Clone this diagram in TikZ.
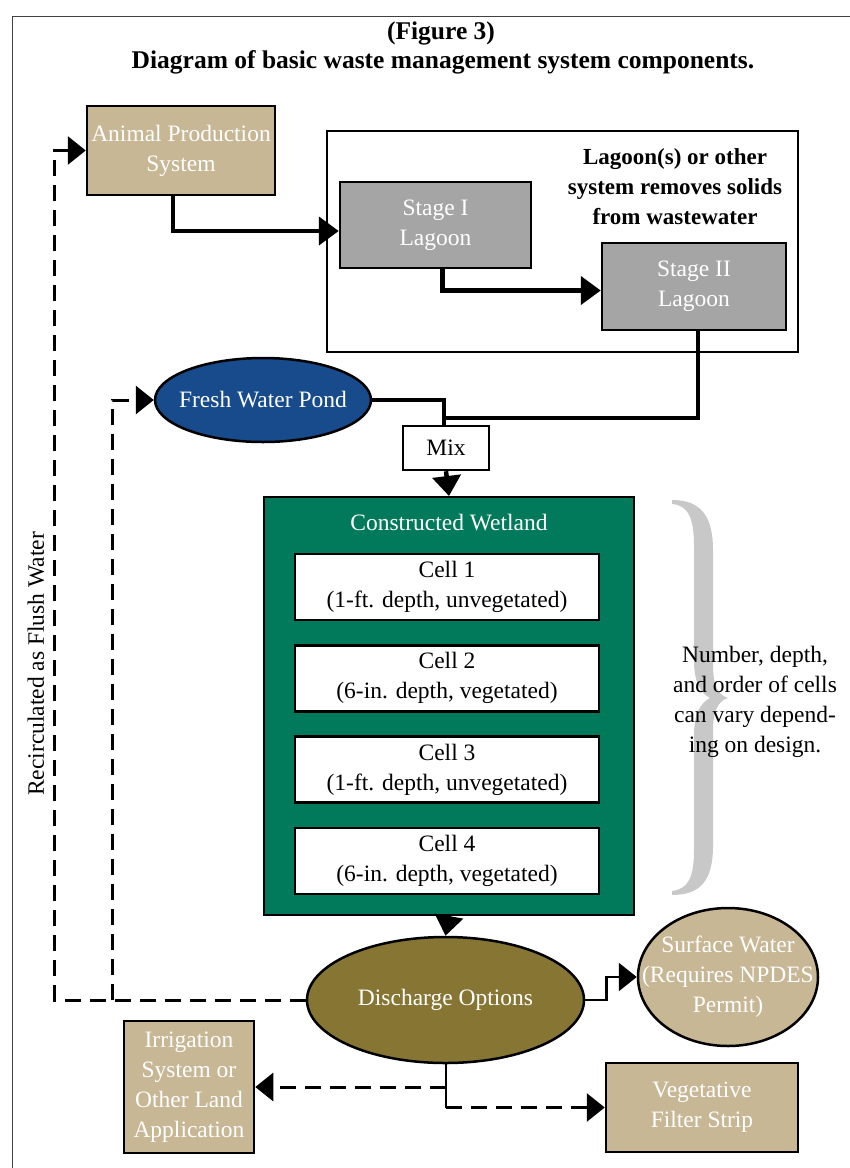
\documentclass[tikz,border=0pt]{standalone}
\usepackage{fontspec}
\setmainfont{Liberation Serif}
\usetikzlibrary{calc}
\usetikzlibrary{arrows.meta}
\usetikzlibrary{shapes.geometric}

\definecolor{mytan}{HTML}{C7B795}
\definecolor{mygray}{HTML}{A5A5A5}
\definecolor{myblue}{HTML}{174B8B}
\definecolor{mygreen}{HTML}{007A5B}
\definecolor{myolive}{HTML}{877533}
\definecolor{mybrace}{HTML}{C8C8C8}

\tikzset{
  txt/.style={font=\fontsize{23.5}{30}\selectfont, align=center},
  heading/.style={txt, font=\fontsize{25.5}{30}\selectfont\bfseries},
  box/.style={txt, draw=black, line width=2.5pt, inner sep=0pt},
  tanbox/.style={box, fill=mytan, text=white},
  graybox/.style={box, fill=mygray, text=white},
  oval/.style={ellipse, draw=black, line width=2.5pt, inner sep=0pt},
  ovaltext/.style={txt, text=white},
  cell/.style={box, fill=white, minimum width=304pt, minimum height=66pt},
  pipe/.style={line width=4.5pt},
  flow/.style={pipe, -{Triangle[length=20pt,width=28pt]}},
  thinflow/.style={line width=2.5pt, -{Triangle[length=18pt,width=28pt]}},
  dashflow/.style={line width=3pt, dash pattern=on 16pt off 9pt, -{Triangle[length=18pt,width=28pt]}},
}

\begin{document}
\begin{tikzpicture}[x=1pt,y=-1pt]
  \useasboundingbox (0,0) rectangle (850,1168);

  %% page frame, cut off at right and bottom
  \draw[line width=1pt, draw=black!75] (850,16) -- (12,16) -- (12,1168);

  %% heading
  \node[heading] (title) at (441,33) {(Figure 3)};
  \node[heading] (subtitle) at (443,62) {Diagram of basic waste management system components.};

  %% lagoon system
  \node[box, fill=white, minimum width=471pt, minimum height=221pt] (lagoons) at (562.5,241.5) {};
  \node[txt, font=\fontsize{23}{30}\selectfont\bfseries] (lagoons/label) at (675,187)
       {Lagoon(s) or other\\system removes solids\\from wastewater};
  \node[graybox, minimum width=191pt, minimum height=86pt] (stageI) at (435.5,225) {Stage I\\Lagoon};
  \node[graybox, minimum width=184pt, minimum height=87pt] (stageII) at (694,286.5) {Stage II\\Lagoon};

  %% sources
  \node[tanbox, minimum width=188pt, minimum height=89pt] (animal) at (181,150.5) {Animal Production\\System};
  \node[oval, fill=myblue, minimum width=216pt, minimum height=84pt] (pond) at (263,400) {};
  \node[ovaltext] (pond/label) at (pond.center) {Fresh Water Pond};
  \node[box, fill=white, minimum width=86pt, minimum height=44pt] (mix) at (446,448) {Mix};

  %% wetland with its cells
  \node[box, fill=mygreen, line width=2pt, minimum width=370pt, minimum height=418pt] (wetland) at (449,706) {};
  \node[txt, text=white] (wetland/title) at (449,523) {Constructed Wetland};
  \foreach \myn/\mytext in {1/{(1-ft. depth, unvegetated)},2/{(6-in. depth, vegetated)},
                            3/{(1-ft. depth, unvegetated)},4/{(6-in. depth, vegetated)}}
  {
    \node[cell] (cell\myn) at (447,{587+(\myn-1)*91.33}) {Cell \myn\\\mytext};
  }

  %% brace and note
  \fill[mybrace] (672,500) .. controls (700,500) and (713,515) .. (713,550) -- (713,665)
        .. controls (713,685) and (718,695) .. (728,698)
        .. controls (718,701) and (713,711) .. (713,731) -- (713,846)
        .. controls (713,881) and (700,895) .. (672,895) -- (672,891)
        .. controls (688,889) and (694,878) .. (694,850) -- (694,735)
        .. controls (694,715) and (700,703) .. (710,698)
        .. controls (700,693) and (694,681) .. (694,661) -- (694,546)
        .. controls (694,518) and (688,505) .. (672,504) -- cycle;
  \node[txt] (note) at (755,702) {Number, depth,\\and order of cells\\can vary depend-\\ing on design.};

  %% outlets
  \node[oval, fill=myolive, minimum width=277pt, minimum height=126pt] (discharge) at (445.5,1000) {};
  \node[ovaltext] (discharge/label) at (discharge.center) {Discharge Options};
  \node[oval, fill=mytan, minimum width=180pt, minimum height=138pt] (surface) at (728,977) {};
  \node[ovaltext] (surface/label) at (surface.center) {Surface Water\\(Requires NPDES\\Permit)};
  \node[tanbox, minimum width=130pt, minimum height=132pt] (irrigation) at (189,1087)
       {Irrigation\\System or\\Other Land\\Application};
  \node[tanbox, minimum width=192pt, minimum height=89pt] (vegetative) at (702,1107.5) {Vegetative\\Filter Strip};

  %% main flow
  \draw[flow] ([xshift=-8pt]animal.south) |- ([yshift=-6pt]stageI.west);
  \draw[flow] ([xshift=7pt]stageI.south) |- ([yshift=-4pt]stageII.west);
  \draw[pipe] ([xshift=4pt]stageII.south) |- ($(mix.north)+(-2,-7)$);
  \draw[pipe] (pond.east) -| ([xshift=-2pt]mix.north);
  \draw[flow] (mix.south) -- (wetland.north);
  \draw[flow] (wetland.south) -- (discharge.north);
  \draw[thinflow] (discharge.east) -- ++(21,0) |- (surface.west);

  %% land application branches
  \coordinate (split/irr) at (discharge.south |- irrigation.east);
  \coordinate (split/veg) at (discharge.south |- vegetative.west);
  \draw[line width=2pt] (discharge.south) -- (split/veg);
  \draw[dashflow] (split/irr) -- (irrigation.east);
  \draw[dashflow] (split/veg) -- (vegetative.west);

  %% recirculation
  \coordinate (recirc/outer) at ($(animal.west)+(-31,0)$);
  \coordinate (recirc/inner) at ($(pond.west)+(-41,0)$);
  \draw[dashflow] (discharge.west) -| (recirc/outer) -- (animal.west);
  \draw[dashflow] (recirc/inner |- discharge.west) -- (recirc/inner) -- (pond.west);
  \node[txt, rotate=90] (recirc/label) at (36,664) {Recirculated as Flush Water};

\end{tikzpicture}
\end{document}
